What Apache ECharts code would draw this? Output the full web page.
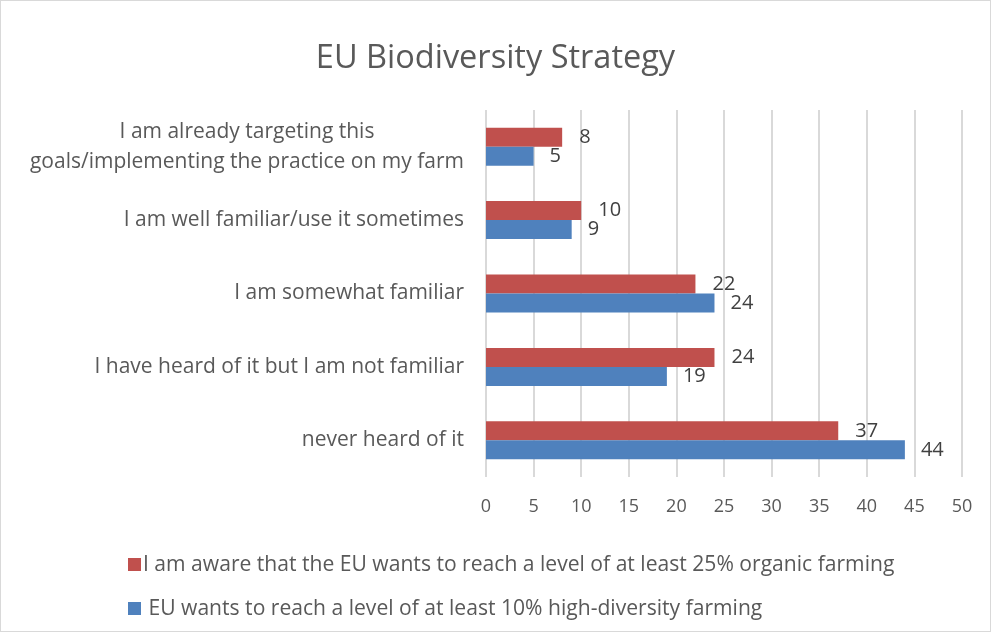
<!DOCTYPE html>
<html>
<head>
<meta charset="utf-8">
<script src="https://cdn.jsdelivr.net/npm/echarts@6/dist/echarts.min.js"></script>
<style>
  html, body { margin: 0; padding: 0; background: #fff; }
  #chart { width: 989px; height: 630px; border: 1px solid #d9d9d9; }
</style>
</head>
<body>
<div id="chart"></div>
<script>
// categories, bottom to top
const categories = [
  'never heard of it',
  'I have heard of it but I am not familiar',
  'I am somewhat familiar',
  'I am well familiar/use it sometimes',
  'I am already targeting this\ngoals/implementing the practice on my farm'
]
const organicName = 'I am aware that the EU wants to reach a level of at least 25% organic farming'
const diversityName = ' EU wants to reach a level of at least 10% high-diversity farming'
const organicValues = [37, 24, 22, 10, 8]
const diversityValues = [44, 19, 24, 9, 5]
const xTicks = [0, 50, 5] // min, max, interval

const fontFamily = 'Open Sans, Liberation Sans, sans-serif'

const chart = echarts.init(document.getElementById('chart'))

chart.setOption({
  animation: false,
  textStyle: { fontFamily: fontFamily },
  title: {
    text: 'EU Biodiversity Strategy',
    left: 'center',
    top: 36,
    textStyle: { fontSize: 32.5, fontWeight: 'normal', color: '#595959', fontFamily: fontFamily }
  },
  legend: {
    orient: 'vertical',
    left: 122,
    top: 548,
    itemGap: 23,
    itemWidth: 13,
    itemHeight: 13,
    icon: 'rect',
    data: [organicName, diversityName],
    textStyle: { fontSize: 21.1, color: '#595959', padding: [0, 0, 0, -3] }
  },
  grid: {
    left: 485,
    right: 28,
    top: 109,
    bottom: 154
  },
  xAxis: {
    type: 'value',
    min: xTicks[0],
    max: xTicks[1],
    interval: xTicks[2],
    axisLine: { show: false },
    axisTick: { show: false },
    axisLabel: { fontSize: 18, color: '#595959', margin: 21 },
    splitLine: { lineStyle: { color: '#d9d9d9', width: 2 } }
  },
  yAxis: {
    type: 'category',
    data: categories,
    axisLine: { show: false },
    axisTick: { show: false },
    axisLabel: {
      fontSize: 21,
      color: '#595959',
      margin: 22,
      formatter: function (v) {
        return v.split('\n').map(function (s) { return '{c|' + s + '}' }).join('\n')
      },
      rich: {
        c: { fontSize: 21, color: '#595959', align: 'center', lineHeight: 30 }
      }
    }
  },
  series: [
    {
      name: organicName,
      type: 'bar',
      data: organicValues,
      barWidth: 19,
      barGap: '0%',
      itemStyle: { color: '#c0504d' },
      label: { show: true, position: 'right', distance: 17, fontSize: 20, color: '#404040' }
    },
    {
      name: diversityName,
      type: 'bar',
      data: diversityValues,
      barWidth: 19,
      barGap: '0%',
      itemStyle: { color: '#4f81bd' },
      label: { show: true, position: 'right', distance: 16, fontSize: 20, color: '#404040' }
    }
  ]
})
</script>
</body>
</html>
